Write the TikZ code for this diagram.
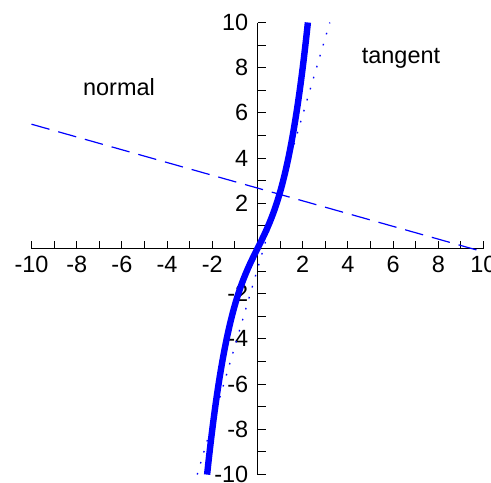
\documentclass[tikz,border=0pt]{standalone}
\usepackage{fontspec}
\setmainfont{Liberation Sans}
\usepackage{xcolor}
\usepackage{tikz}
\usetikzlibrary{calc}
\definecolor{plotblue}{HTML}{0000FF}
\tikzset{axis/.style={line width=0.75pt,black},
  lbl/.style={inner sep=0pt,font=\fontsize{17.6}{20}\selectfont},
  graph/.style={plotblue,line width=4.8pt},
  tanline/.style={plotblue,line width=1pt,dash pattern=on 1.2pt off 7.4pt},
  normline/.style={plotblue,line width=0.9pt,dash pattern=on 14pt off 6.8pt}}

\begin{document}
\begin{tikzpicture}[x=16.95pt,y=16.95pt]
  \useasboundingbox (-11.394,-10.376) rectangle (10.332,10.996);
  \draw[axis] (-10,0) -- (10,0) (0,-10) -- (0,10);
  \foreach \k in {-10,...,10} \draw[axis] (\k,0) -- ++(0,6pt) (0,\k) -- ++(6pt,0);
  \foreach \k [count=\i] in {-10,-8,-6,-4,-2,2,4,6,8,10} {
    \node[lbl,anchor=north,yshift=-5.4pt] (xl\i) at (\k,0) {\k};
    \node[lbl,anchor=east,xshift=-6.75pt] (yl\i) at (0,\k) {\k};}
  \node[lbl,anchor=base] (normal) at (-6.13,6.79) {normal};
  \node[lbl,anchor=base] (tangent) at (6.35,8.19) {tangent};
  \coordinate (P) at (0.97,2.4);
  \draw[normline] (-10,5.5) -- (P) -- (10,-0.15);
  \draw[tanline] (-2.666,-10) -- (P) -- (3.199,10);
  \draw[graph] plot[domain=-2.23:2.23,samples=120,smooth] ({\x},{0.5*\x*\x*\x+2*\x});
\end{tikzpicture}
\end{document}
